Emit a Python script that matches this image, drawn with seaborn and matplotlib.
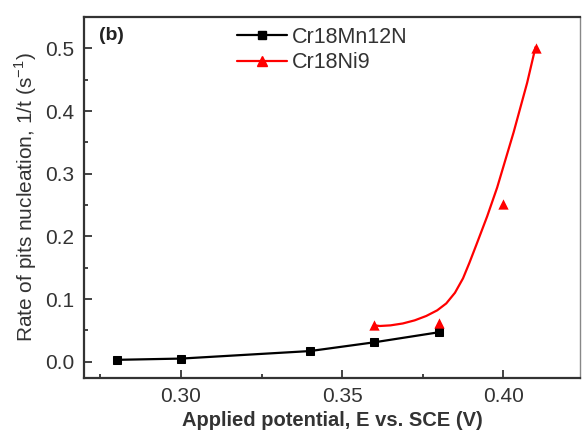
import numpy as np
import pandas as pd
import seaborn as sns
import matplotlib.pyplot as plt
from matplotlib.lines import Line2D
from matplotlib.ticker import MultipleLocator

# measured data
mn_potential = [0.28, 0.30, 0.34, 0.36, 0.38]
mn_rate = [0.003, 0.005, 0.017, 0.031, 0.047]

ni_potential = [0.36, 0.38, 0.40, 0.41]
ni_rate = [0.058, 0.062, 0.251, 0.500]

# fitted curve for Cr18Ni9
ni_fit_potential = [0.3600, 0.3617, 0.3650, 0.3688, 0.3725, 0.3761, 0.3795,
                    0.3823, 0.3850, 0.3875, 0.3895, 0.3916, 0.3950, 0.3981,
                    0.4032, 0.4074, 0.4100]
ni_fit_rate = [0.058, 0.057, 0.058, 0.061, 0.066, 0.073, 0.082,
               0.093, 0.110, 0.133, 0.158, 0.186, 0.232, 0.278,
               0.366, 0.445, 0.502]

sns.set_theme(style='ticks')
plt.rcParams['font.family'] = ['Liberation Sans', 'DejaVu Sans']
plt.rcParams['mathtext.fontset'] = 'custom'
plt.rcParams['mathtext.rm'] = 'Liberation Sans'

fig = plt.figure(figsize=(5.82, 4.33), dpi=100)
ax = fig.add_axes([84/582, 1 - 377.7/433, (580 - 84)/582, (377.7 - 17)/433])

mn_df = pd.DataFrame({'E': mn_potential, 'rate': mn_rate})
ni_df = pd.DataFrame({'E': ni_potential, 'rate': ni_rate})
fit_df = pd.DataFrame({'E': ni_fit_potential, 'rate': ni_fit_rate})

sns.lineplot(data=mn_df, x='E', y='rate', color='black', marker='s',
             markersize=6, markeredgecolor='black', linewidth=1.6, ax=ax)
sns.lineplot(data=fit_df, x='E', y='rate', color='red', linewidth=1.6, ax=ax)
sns.scatterplot(data=ni_df, x='E', y='rate', color='red', marker='^',
                s=55, edgecolor='red', linewidth=0, ax=ax, zorder=3)

ax.set_xlim(0.2699, 0.4238)
ax.set_ylim(-0.0255, 0.55)
ax.xaxis.set_minor_locator(MultipleLocator(0.025))
ax.yaxis.set_minor_locator(MultipleLocator(0.05))
ax.set_xticks([0.30, 0.35, 0.40])
ax.set_xticklabels(['0.30', '0.35', '0.40'])
ax.set_yticks([0.0, 0.1, 0.2, 0.3, 0.4, 0.5])
ax.set_yticklabels(['0.0', '0.1', '0.2', '0.3', '0.4', '0.5'])

ax.tick_params(which='major', direction='in', length=5.5, width=1.2,
               labelsize=15, pad=7, colors='#222222', labelcolor='#333333')
ax.tick_params(which='minor', direction='in', length=3, width=1.2, colors='#222222')
for side in ['left', 'right', 'top', 'bottom']:
    ax.spines[side].set_visible(True)
    ax.spines[side].set_linewidth(1.6)
    ax.spines[side].set_color('#333333')
ax.spines['right'].set_linewidth(1.0)
ax.spines['right'].set_color('#888888')

ax.set_xlabel('Applied potential, E vs. SCE (V)', fontsize=14.5,
              fontweight='bold', color='#333333', labelpad=3)
ax.set_ylabel('Rate of pits nucleation, 1/t (s$^{-1}$)', fontsize=15,
              color='#333333', labelpad=4)

ax.text(0.03, 0.95, '(b)', transform=ax.transAxes, fontsize=14,
        fontweight='bold', color='#222222', va='center', ha='left')

handles = [Line2D([], [], color='black', marker='s', markersize=6, linewidth=1.6),
           Line2D([], [], color='red', marker='^', markersize=7, linewidth=1.6)]
fig.legend(handles, ['Cr18Mn12N', 'Cr18Ni9'], loc='upper left',
           bbox_to_anchor=(237/582, 1 - 27/433), frameon=False, fontsize=15.5,
           handlelength=2.3, handletextpad=0.25, labelspacing=0.2,
           borderpad=0, borderaxespad=0, labelcolor='#333333')

fig.savefig('out.png', dpi=100)
